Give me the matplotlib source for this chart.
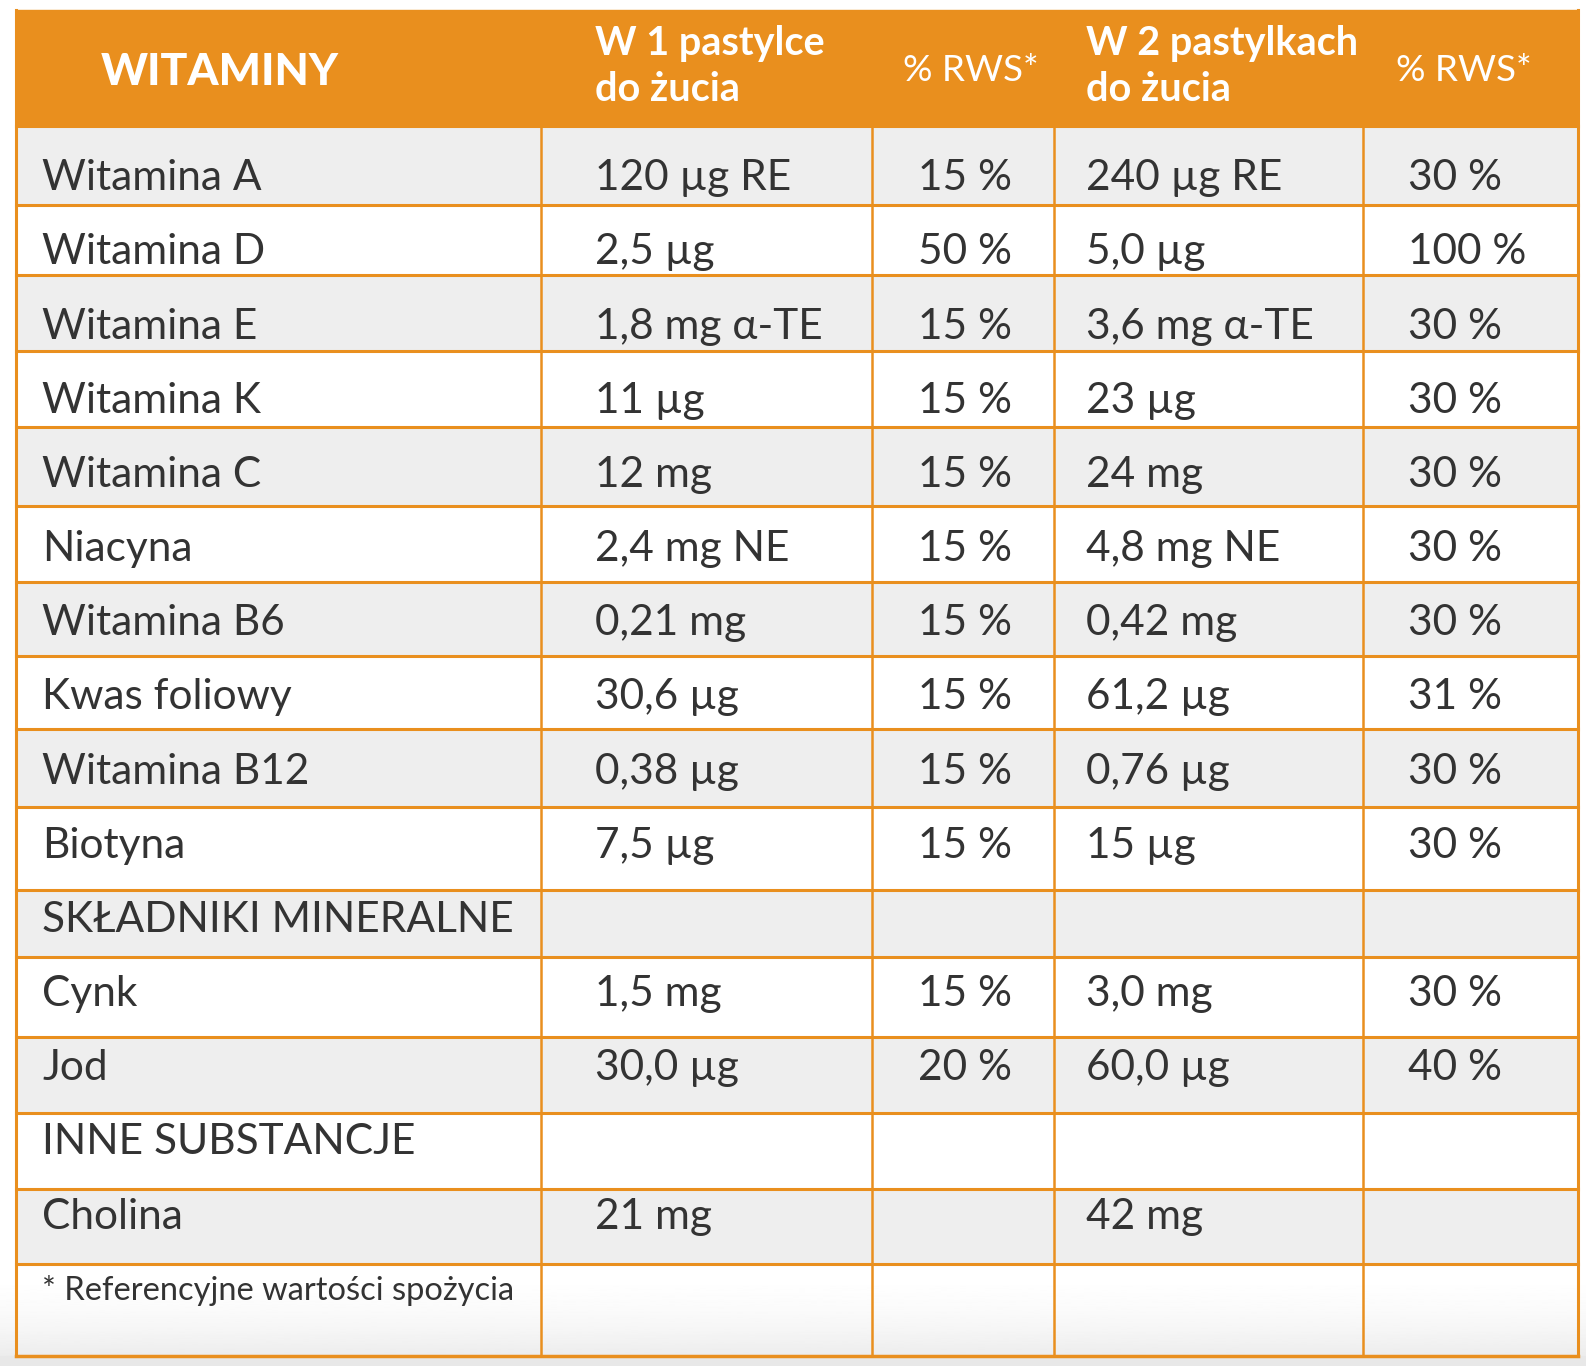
import matplotlib.pyplot as plt
import numpy as np
from matplotlib.patches import Rectangle

plt.rcParams['font.family'] = ['Lato', 'DejaVu Sans']

# dane tabeli
naglowki = ['WITAMINY', 'W 1 pastylce\ndo żucia', '% RWS*', 'W 2 pastylkach\ndo żucia', '% RWS*']
skladniki = ['Witamina A', 'Witamina D', 'Witamina E', 'Witamina K', 'Witamina C',
             'Niacyna', 'Witamina B6', 'Kwas foliowy', 'Witamina B12', 'Biotyna',
             'SKŁADNIKI MINERALNE', 'Cynk', 'Jod', 'INNE SUBSTANCJE', 'Cholina']
w_1_pastylce = ['120 µg RE', '2,5 µg', '1,8 mg α-TE', '11 µg', '12 mg',
                '2,4 mg NE', '0,21 mg', '30,6 µg', '0,38 µg', '7,5 µg',
                '', '1,5 mg', '30,0 µg', '', '21 mg']
rws_1 = ['15 %', '50 %', '15 %', '15 %', '15 %', '15 %', '15 %', '15 %', '15 %', '15 %',
         '', '15 %', '20 %', '', '']
w_2_pastylkach = ['240 µg RE', '5,0 µg', '3,6 mg α-TE', '23 µg', '24 mg',
                  '4,8 mg NE', '0,42 mg', '61,2 µg', '0,76 µg', '15 µg',
                  '', '3,0 mg', '60,0 µg', '', '42 mg']
rws_2 = ['30 %', '100 %', '30 %', '30 %', '30 %', '30 %', '30 %', '31 %', '30 %', '30 %',
         '', '30 %', '40 %', '', '']
przypis = '* Referencyjne wartości spożycia'

# uklad (jednostki ekranowe 1568 x 1350)
W, H = 1568, 1350
kolumny = [16, 535, 862, 1042, 1348, 1560]
wiersze = [125, 203, 272, 347, 422, 500, 575, 648, 720, 798, 880, 946, 1025, 1100, 1175, 1249, 1340]
tekst_x = [42, 588, 908, 1074, 1392]
pomaranczowy = '#E98F1E'
szary = '#EEEEEE'
ciemny = '#333333'

fig = plt.figure(figsize=(15.86, 13.66), dpi=100)
ax = fig.add_axes([0, 0, 1, 1])
ax.set_xlim(0, W)
ax.set_ylim(H, 0)
ax.axis('off')

# tlo z gradientem na dole
grad = np.linspace(0, 1, 200).reshape(-1, 1)
ax.imshow(1 - 0.09 * grad ** 2, cmap='gray', vmin=0, vmax=1, aspect='auto',
          extent=(0, W, H, 1250), zorder=0)
ax.add_patch(Rectangle((0, 1340), W, H - 1340, color='#E8E8E8', zorder=0.5))

# naglowek
ax.add_patch(Rectangle((kolumny[0], 10), kolumny[-1] - kolumny[0], wiersze[0] - 10,
                       color=pomaranczowy, zorder=1))
ax.text(100, 71, naglowki[0], color='white', fontsize=32, fontweight='black', va='center')
ax.text(tekst_x[1], 66, naglowki[1], color='white', fontsize=28.5, fontweight='bold',
        va='center', linespacing=1.3)
ax.text(893, 70, naglowki[2], color='white', fontsize=26.5, va='center')
ax.text(tekst_x[3], 66, naglowki[3], color='white', fontsize=28.5, fontweight='bold',
        va='center', linespacing=1.3)
ax.text(1380, 70, naglowki[4], color='white', fontsize=26.5, va='center')

# wiersze
kol_danych = [skladniki, w_1_pastylce, rws_1, w_2_pastylkach, rws_2]
for i in range(len(skladniki)):
    y0, y1 = wiersze[i], wiersze[i + 1]
    if i % 2 == 0:
        ax.add_patch(Rectangle((kolumny[0], y0), kolumny[-1] - kolumny[0], y1 - y0,
                               color=szary, zorder=1))
    baseline = 188 + i * 73.3
    for k, kol in enumerate(kol_danych):
        if kol[i]:
            ax.text(tekst_x[k], baseline, kol[i], color=ciemny, fontsize=30.5,
                    va='baseline', zorder=3)

ax.text(tekst_x[0], 1285, przypis, color=ciemny, fontsize=23.5, va='baseline', zorder=3)

# linie siatki
for y in wiersze[:-1]:
    ax.plot([kolumny[0], kolumny[-1]], [y, y], color=pomaranczowy, lw=2.2, zorder=2)
ax.plot([kolumny[0], kolumny[-1]], [wiersze[-1]] * 2, color=pomaranczowy, lw=2.5, zorder=2)
for x in kolumny[1:-1]:
    ax.plot([x, x], [wiersze[0], wiersze[-1]], color=pomaranczowy, lw=1.8, zorder=2)
ax.plot([kolumny[0]] * 2, [10, wiersze[-1]], color=pomaranczowy, lw=2.2, zorder=2)
ax.plot([kolumny[-1]] * 2, [10, wiersze[-1]], color=pomaranczowy, lw=2.2, zorder=2)

fig.savefig('out.png', dpi=100)
